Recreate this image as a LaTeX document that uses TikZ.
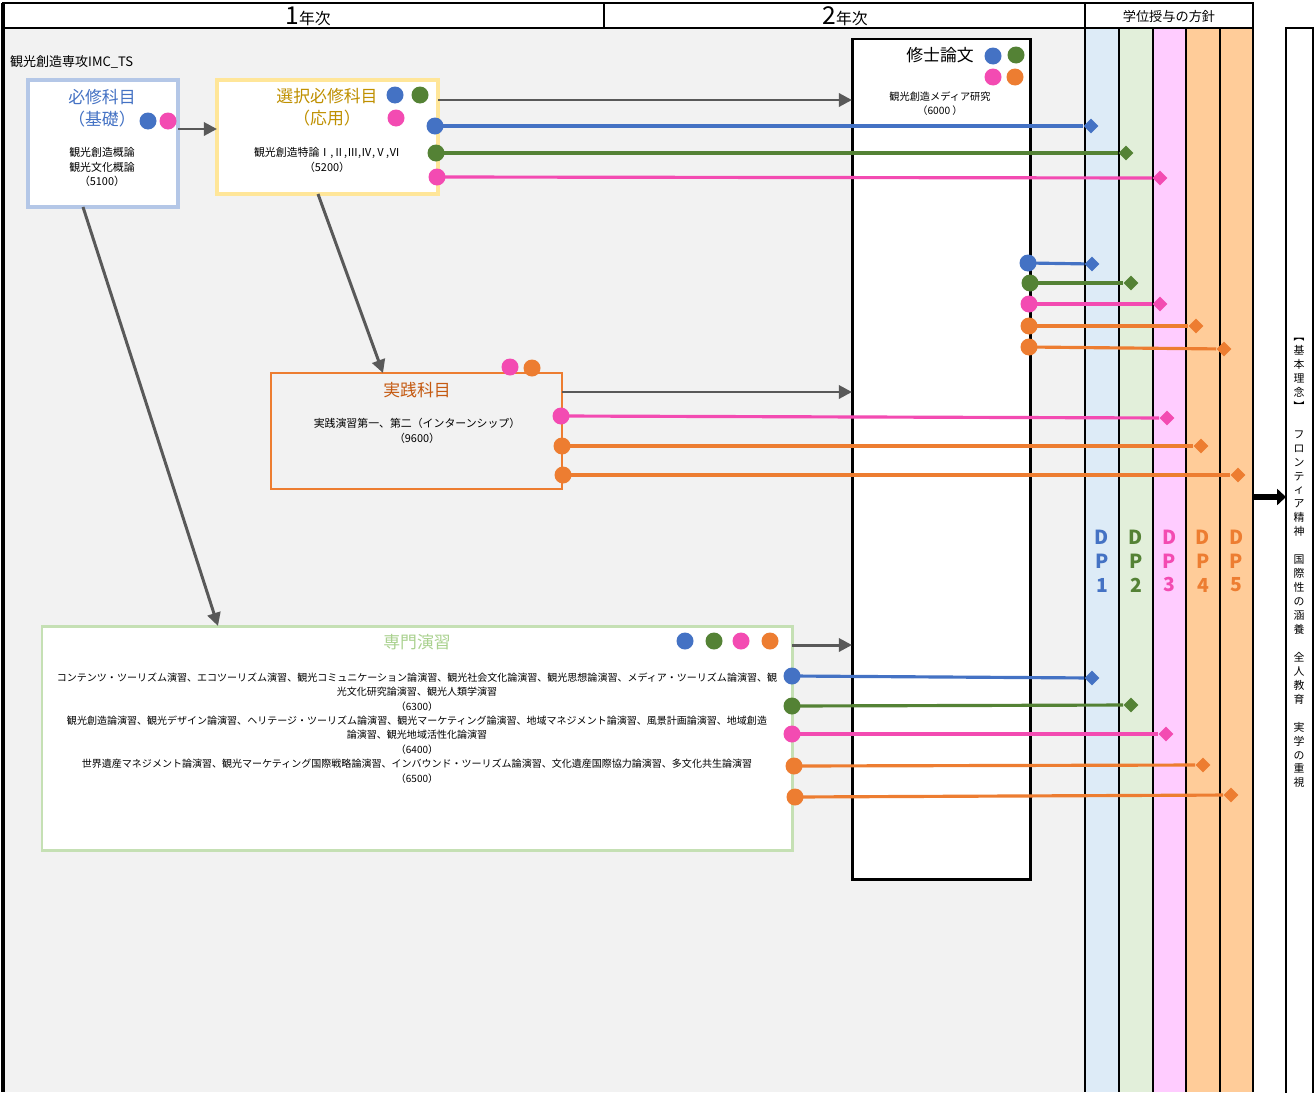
\documentclass[tikz,border=0pt]{standalone}
\usepackage{fontspec}
\setmainfont{Noto Sans CJK JP}
\usetikzlibrary{arrows.meta,shapes.geometric}
\definecolor{dpblue}{HTML}{4472C4}
\definecolor{dpgreen}{HTML}{548235}
\definecolor{dppink}{HTML}{F34BB2}
\definecolor{dporange}{HTML}{ED7D31}
\definecolor{flowgray}{HTML}{595959}
\definecolor{bggray}{HTML}{F2F2F2}
\definecolor{colblue}{HTML}{DDEBF7}
\definecolor{colgreen}{HTML}{E2EFDA}
\definecolor{colpink}{HTML}{FFCCFF}
\definecolor{colorange}{HTML}{FFCC99}
\definecolor{hisshuline}{HTML}{B4C7E7}
\definecolor{sentakuline}{HTML}{FFE699}
\definecolor{senmonline}{HTML}{C5E0B4}
\definecolor{sentakutitle}{HTML}{BF9000}
\definecolor{jissentitle}{HTML}{C55A11}
\definecolor{senmontitle}{HTML}{A9D18E}
\newlength\pxl
\setlength\pxl{0.02cm}
\newcommand*{\fsz}[2]{\fontsize{#1}{#2}\selectfont}
\tikzset{
  course/.style={outer sep=0pt, inner sep=0pt},
  headtext/.style={font=\fsz{9.6pt}{12.5pt}, align=center},
  subjects/.style={font=\fsz{6.2pt}{8.5pt}, align=center},
  ball/.style={circle, fill=#1, minimum size=17\pxl, inner sep=0pt},
  dpmark/.style={diamond, fill=#1, minimum size=15\pxl, inner sep=0pt},
  dpline/.style={draw=#1, line width=1.8pt},
  flow/.style={draw=flowgray, line width=1.7pt, -{Triangle[length=7.5pt,width=7.5pt]}},
  dplabel/.style={font=\bfseries\fsz{11pt}{13.6pt}, align=center, text=#1}
}

\begin{document}
\begin{tikzpicture}[x=0.02cm, y=-0.02cm]
  \useasboundingbox (0,0) rectangle (1315,1092);

  % background and DP columns
  \fill[bggray] (3,28) rectangle (1085,1092);
  \fill[colblue] (1085,28) rectangle (1119,1092);
  \fill[colgreen] (1119,28) rectangle (1153,1092);
  \fill[colpink] (1153,28) rectangle (1186,1092);
  \fill[colorange] (1186,28) rectangle (1253,1092);
  \foreach \x in {1085,1119,1153,1186,1220,1253}
    \draw[line width=0.6pt] (\x,28) -- (\x,1092);

  % header
  \draw[fill=white, line width=1.4pt] (3,3) rectangle (1253,28);
  \draw[line width=0.6pt] (604,3) -- (604,28);
  \draw[line width=1.2pt] (1085,3) -- (1085,28);
  \draw[line width=1.8pt] (3,3) -- (3,1092);
  \node (year1) at (308,16) {{\fsz{14pt}{14pt}1}\fsz{9pt}{9pt}年次};
  \node (year2) at (845,16) {{\fsz{14pt}{14pt}2}\fsz{9pt}{9pt}年次};
  \node[font=\fsz{7.5pt}{8pt}] (policy) at (1169,16) {学位授与の方針};

  \node[anchor=west, font=\fsz{7.4pt}{8pt}] (major) at (4,62) {観光創造専攻IMC\_TS};

  % course boxes
  \node[course, draw=hisshuline, line width=2.2pt, fill=white,
        minimum width=150\pxl, minimum height=127\pxl] (hisshu) at (103,143.5) {};
  \node[headtext, text=dpblue] (hisshuT) at (102,108) {必修科目\\（基礎）};
  \node[subjects] (hisshuB) at (102,167) {観光創造概論\\観光文化概論\\（5100）};

  \node[course, draw=sentakuline, line width=2.2pt, fill=white,
        minimum width=221\pxl, minimum height=114\pxl] (sentaku) at (327.5,137) {};
  \node[headtext, text=sentakutitle] (sentakuT) at (327,107) {選択必修科目\\（応用）};
  \node[subjects] (sentakuB) at (327,160) {観光創造特論Ⅰ,Ⅱ,Ⅲ,Ⅳ,Ⅴ,Ⅵ\\（5200）};

  \node[course, draw=black, line width=1.7pt, fill=white,
        minimum width=178\pxl, minimum height=840\pxl] (thesis) at (941,459) {};
  \node[headtext] (thesisT) at (940,55) {修士論文};
  \node[subjects, font=\fsz{5.8pt}{8pt}] (thesisB) at (940,104) {観光創造メディア研究\\（6000 ）};

  \node[course, draw=dporange, line width=1.4pt,
        minimum width=291\pxl, minimum height=116\pxl] (jissen) at (416.5,431) {};
  \node[headtext, text=jissentitle] (jissenT) at (417,390) {実践科目};
  \node[subjects] (jissenB) at (417,430.5) {実践演習第一、第二（インターンシップ）\\（9600）};

  \node[course, draw=senmonline, line width=1.7pt, fill=white,
        minimum width=750\pxl, minimum height=224\pxl] (senmon) at (417,738) {};
  \node[headtext, text=senmontitle] (senmonT) at (417,642) {専門演習};
  \node[subjects, font=\fsz{5.7pt}{8.2pt}] (senmonB) at (417,728) {%
    コンテンツ・ツーリズム演習、エコツーリズム演習、観光コミュニケーション論演習、観光社会文化論演習、観光思想論演習、メディア・ツーリズム論演習、観\\
    光文化研究論演習、観光人類学演習\\
    （6300）\\
    観光創造論演習、観光デザイン論演習、ヘリテージ・ツーリズム論演習、観光マーケティング論演習、地域マネジメント論演習、風景計画論演習、地域創造\\
    論演習、観光地域活性化論演習\\
    （6400）\\
    世界遺産マネジメント論演習、観光マーケティング国際戦略論演習、インバウンド・ツーリズム論演習、文化遺産国際協力論演習、多文化共生論演習\\
    （6500）};

  % flow between courses
  \draw[flow] (hisshu.east |- 0,129) -- (sentaku.west |- 0,129);
  \draw[flow] (sentaku.east |- 0,100) -- (thesis.west |- 0,100);
  \draw[flow] (jissen.east |- 0,392) -- (thesis.west |- 0,392);
  \draw[flow] (senmon.east |- 0,645) -- (thesis.west |- 0,645);
  \draw[flow] (sentaku.south -| 318,0) -- (jissen.north -| 383,0);
  \draw[flow] (hisshu.south -| 83,0) -- (senmon.north -| 218,0);

  % DP marks on the boxes
  \foreach \n/\x/\y/\c in {a/148/121/dpblue, b/168/121/dppink,
      c/395/95/dpblue, d/420/95/dpgreen, e/396/118/dppink,
      f/993/56/dpblue, g/1016/55/dpgreen, h/993/77/dppink, i/1015/77/dporange,
      j/510/367/dppink, k/532/368/dporange,
      l/685/641/dpblue, m/714/641/dpgreen, n/741/641/dppink, o/770/641/dporange}
    \node[ball=\c] (mark\n) at (\x,\y) {};

  % links to the DP columns
  \foreach \n/\x/\y/\tx/\ty/\c in {
      1/435/126/1091/126/dpblue, 2/436/153/1126/153/dpgreen, 3/437/177/1160/178/dppink,
      4/1028/263/1092/264/dpblue, 5/1030/283/1131/283/dpgreen, 6/1029/304/1160/304/dppink,
      7/1029/326/1196/326/dporange, 8/1029/347/1224/349/dporange,
      9/561/416/1167/418/dppink, 10/562/446/1201/446/dporange, 11/563/475/1238/475/dporange,
      12/792/676/1092/678/dpblue, 13/792/706/1131/705/dpgreen, 14/792/734/1166/734/dppink,
      15/794/766/1203/765/dporange, 16/795/797/1231/795/dporange}{
    \node[dpmark=\c] (dp\n) at (\tx,\ty) {};
    \draw[dpline=\c] (\x,\y) -- (dp\n);
    \node[ball=\c] (src\n) at (\x,\y) {};
  }

  % DP labels
  \node[dplabel=dpblue] (dp1L) at (1102,561) {D\\P\\1};
  \node[dplabel=dpgreen] (dp2L) at (1136,561) {D\\P\\2};
  \node[dplabel=dppink] (dp3L) at (1169.5,561) {D\\P\\3};
  \node[dplabel=dporange] (dp4L) at (1203,561) {D\\P\\4};
  \node[dplabel=dporange] (dp5L) at (1236.5,561) {D\\P\\5};

  % basic idea
  \node[course, draw, line width=1.2pt, fill=white, anchor=north,
        minimum width=27\pxl, minimum height=1080\pxl] (kihon) at (1299.5,28) {};
  \node[font=\fsz{6.2pt}{7.94pt}, align=center, inner sep=0pt] (kihonT) at (1299,563)
    {︻\\基\\本\\理\\念\\︼\\　\\フ\\ロ\\ン\\テ\\ィ\\ア\\精\\神\\　\\国\\際\\性\\の\\涵\\養\\　\\全\\人\\教\\育\\　\\実\\学\\の\\重\\視};
  \coordinate (dpright) at (1253,497);
  \draw[line width=3pt, -{Triangle[length=5pt,width=9pt]}] (dpright) -- (kihon.west |- dpright);
\end{tikzpicture}
\end{document}
